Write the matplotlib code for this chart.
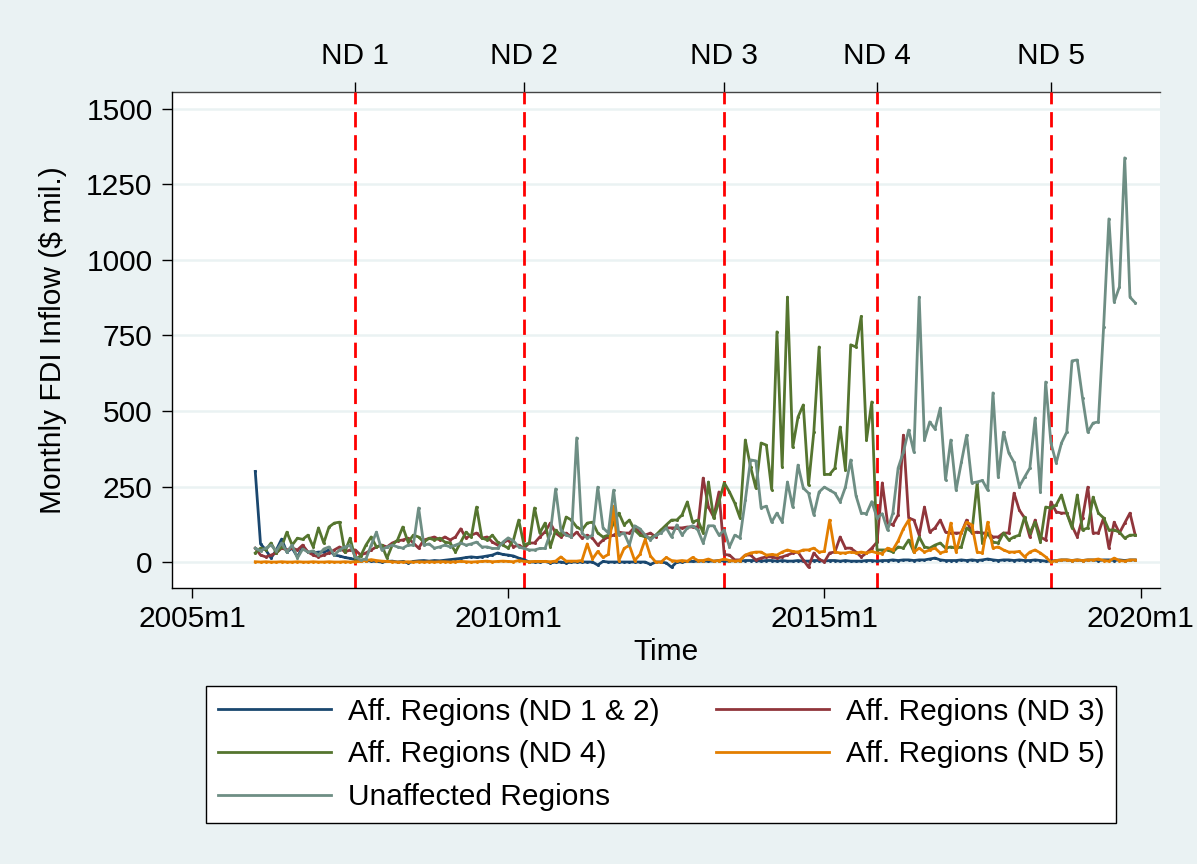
import matplotlib
matplotlib.use("Agg")
import matplotlib.pyplot as plt
import numpy as np

plt.rcParams['font.family'] = ['Liberation Sans', 'DejaVu Sans']
FS = 21.5

# Monthly dates in Stata %tm units (months since 1960m1): 2006m1 .. 2019m12
first_month = (2006 - 1960) * 12
last_month = (2019 - 1960) * 12 + 11
months = np.arange(first_month, last_month + 1)

# Monthly FDI inflow ($ mil.), one row per year 2006..2019
aff_nd12 = [
    300, 60, 40, 13, 40, 76, 33, 46, 17, 50, 33, 30,
    33, 33, 40, 23, 20, 15, 12, 8, 5, 5, 3, 2,
    0, 2, 3, 0, 2, -3, 2, 4, 5, 3, 5, 4,
    6, 8, 10, 12, 15, 17, 15, 17, 20, 23, 30, 25,
    23, 20, 13, 8, 0, 0, 0, 2, -3, 0, 0, -3,
    0, 0, 0, 0, 0, -10, 2, 0, 0, 0, 0, 0,
    0, 0, 0, -8, 0, 0, -3, -17, 0, 0, 2, 2,
    3, 3, 3, 3, 5, 3, 3, 5, 3, 5, 5, 5,
    3, 5, 5, 3, 5, 3, 3, 5, 3, 3, 5, 5,
    3, 5, 5, 3, 5, 3, 3, 3, 5, 5, 3, 5,
    5, 7, 5, 7, 7, 5, 7, 7, 10, 13, 7, 5,
    5, 5, 7, 5, 7, 5, 7, 10, 7, 5, 7, 7,
    5, 7, 5, 5, 7, 5, 3, 3, 5, 7, 7, 5,
    7, 5, 7, 7, 5, 7, 7, 5, 7, 5, 7, 7,
]

aff_nd3 = [
    46, 23, 17, 23, 30, 46, 40, 46, 40, 56, 33, 23,
    17, 23, 30, 40, 50, 33, 40, 40, 23, 30, 40, 50,
    56, 50, 63, 70, 73, 79, 63, 46, 73, 78, 83, 73,
    83, 73, 83, 110, 79, 89, 96, 79, 83, 66, 56, 63,
    73, 50, 56, 46, 63, 63, 83, 100, 129, 96, 83, 96,
    83, 99, 79, 89, 79, 56, 73, 83, 89, 99, 96, 96,
    116, 99, 89, 96, 83, 106, 113, 113, 113, 113, 116, 116,
    116, 278, 182, 149, 232, 25, 23, 7, 7, 23, 23, 7,
    13, 17, 17, 13, 17, 23, 30, 33, 7, -17, 30, 10,
    0, 30, 33, 83, 46, 46, 33, 17, 30, 46, 66, 262,
    129, 123, 156, 420, 146, 139, 89, 182, 99, 113, 139, 99,
    96, 96, 96, 139, 96, 99, 96, 96, 83, 83, 96, 96,
    228, 172, 146, 83, 139, 83, 73, 199, 166, 162, 162, 120,
    83, 146, 248, 96, 96, 146, 46, 132, 96, 129, 162, 89,
]

aff_nd4 = [
    30, 46, 40, 63, 30, 50, 99, 56, 79, 75, 89, 50,
    113, 63, 116, 129, 132, 33, 79, 10, 20, 56, 83, 50,
    56, 13, 56, 73, 116, 66, 89, 83, 66, 79, 73, 79,
    66, 63, 33, 66, 99, 83, 182, 80, 73, 89, 66, 56,
    46, 73, 139, 56, 63, 179, 96, 129, 50, 106, 89, 149,
    139, 116, 106, 129, 132, 96, 83, 89, 129, 162, 123, 139,
    106, 89, 83, 79, 89, 106, 123, 139, 139, 156, 199, 132,
    139, 96, 265, 145, 200, 262, 232, 195, 146, 404, 315, 245,
    394, 387, 240, 762, 315, 877, 380, 480, 520, 255, 430, 712,
    290, 290, 311, 447, 305, 719, 712, 813, 404, 530, 40, 40,
    40, 33, 50, 46, 73, 33, 83, 50, 46, 56, 63, 46,
    50, 46, 50, 113, 99, 262, 63, 96, 66, 63, 96, 73,
    83, 89, 149, 96, 132, 66, 182, 179, 189, 222, 162, 113,
    222, 106, 113, 215, 162, 146, 106, 106, 99, 79, 89, 89,
]

aff_nd5 = [
    1, 0, 1, 0, 0, 1, 0, 0, 1, 0, 0, 1,
    0, 0, 1, 0, 0, 1, 0, 1, 2, 5, 8, 5,
    3, 2, 1, 0, 0, 1, 0, 1, 0, 1, 0, 1,
    1, 0, 1, 2, 1, 0, 1, 2, 3, 1, 2, 3,
    2, 1, 5, 2, 1, 2, 2, 2, 1, 3, 17, 3,
    3, 3, 5, 60, 10, 35, 15, 25, 185, 5, 45, 55,
    5, 25, 75, 20, 0, 0, 15, 5, 3, 5, 3, 15,
    5, 5, 10, 3, 5, 10, 5, 3, 5, 23, 30, 33,
    33, 23, 25, 23, 33, 40, 35, 33, 40, 40, 46, 33,
    35, 139, 33, 30, 30, 33, 30, 33, 30, 35, 30, 28,
    46, 40, 70, 110, 139, 33, 46, 33, 40, 46, 30, 35,
    129, 33, 99, 132, 123, 33, 30, 132, 46, 50, 40, 33,
    33, 35, 17, 33, 40, 30, 17, 0, 5, 7, 7, 5,
    7, 5, 7, 7, 10, 5, 3, 13, 5, 3, 7, 7,
]

unaffected = [
    46, 37, 46, 56, 37, 63, 33, 56, 13, 43, 33, 37,
    23, 43, 50, 23, 40, 50, 55, 17, 7, 10, 56, 99,
    40, 50, 56, 50, 46, 56, 56, 179, 56, 60, 46, 50,
    56, 50, 56, 63, 56, 60, 66, 50, 50, 45, 45, 66,
    80, 70, 50, 45, 40, 40, 45, 45, 96, 242, 106, 89,
    83, 411, 96, 79, 89, 248, 113, 96, 238, 89, 96, 56,
    120, 110, 89, 73, 89, 96, 113, 83, 123, 89, 113, 120,
    106, 63, 120, 120, 89, 106, 50, 89, 80, 205, 338, 335,
    179, 185, 132, 162, 132, 265, 182, 321, 245, 228, 156, 232,
    248, 238, 228, 199, 248, 338, 220, 162, 160, 200, 146, 160,
    106, 162, 311, 364, 437, 364, 877, 404, 464, 440, 510, 272,
    404, 238, 330, 420, 262, 265, 270, 238, 560, 281, 430, 361,
    330, 250, 281, 311, 477, 232, 596, 394, 328, 394, 430, 666,
    669, 543, 430, 460, 464, 778, 1136, 861, 911, 1338, 877, 858,
]

series_labels = ["Aff. Regions (ND 1 & 2)", "Aff. Regions (ND 3)",
                 "Aff. Regions (ND 4)", "Aff. Regions (ND 5)",
                 "Unaffected Regions"]
series_colors = ["#1a476f", "#90353b", "#55752f", "#e37e00", "#6e8e84"]

# Natural disaster dates (%tm) and their labels on the top axis
nd_dates = [571, 603, 641, 670, 703]
nd_labels = ["ND 1", "ND 2", "ND 3", "ND 4", "ND 5"]

x_ticks = [540, 600, 660, 720]
x_tick_labels = ["2005m1", "2010m1", "2015m1", "2020m1"]
y_ticks = [0, 250, 500, 750, 1000, 1250, 1500]

bg = "#EAF2F3"
fig = plt.figure(figsize=(11.97, 8.64), dpi=100, facecolor=bg)
W, H = 1197, 864
ax = fig.add_axes([172 / W, 1 - 588 / H, (1160 - 172) / W, (588 - 92) / H])
ax.set_facecolor("white")

ax.set_xlim(536.2, 723.7)
ax.set_ylim(-86, 1556)

ax.yaxis.grid(True, color=bg, lw=1.8)
ax.set_axisbelow(True)

for d in nd_dates:
    ax.axvline(d, color="#ff0000", lw=2.0, dashes=(5.5, 2.8), zorder=1.5)

all_series = [aff_nd12, aff_nd3, aff_nd4, aff_nd5, unaffected]
handles = []
for vals, lab, col in zip(all_series, series_labels, series_colors):
    h, = ax.plot(months, vals, color=col, lw=2.0, marker="o", ms=2.2,
                 mew=0, label=lab, zorder=3)
    handles.append(h)

ax.set_xticks(x_ticks, x_tick_labels)
ax.set_yticks(y_ticks, [str(v) for v in y_ticks])
ax.tick_params(axis="both", labelsize=FS, length=7, width=1, color="black")
ax.tick_params(axis="x", pad=5)
ax.tick_params(axis="y", pad=7)

for side in ["left", "bottom"]:
    ax.spines[side].set_color("black")
    ax.spines[side].set_linewidth(1.0)
ax.spines["right"].set_visible(False)
ax.spines["top"].set_visible(False)

top = ax.secondary_xaxis("top")
top.set_xticks(nd_dates, nd_labels)
top.tick_params(labelsize=FS, length=7, width=1, pad=9)
top.spines["top"].set_color("#444444")
top.spines["top"].set_linewidth(1.0)

ax.set_xlabel("Time", fontsize=FS, labelpad=4)
ax.set_ylabel("Monthly FDI Inflow ($ mil.)", fontsize=FS, labelpad=14)

order = [0, 2, 4, 1, 3]
leg = fig.legend([handles[i] for i in order], [series_labels[i] for i in order],
                 ncol=2, loc="center", bbox_to_anchor=(661 / W, 1 - 754.5 / H),
                 fontsize=FS, frameon=True, fancybox=False, edgecolor="black",
                 facecolor="white", framealpha=1, handlelength=3.8,
                 handletextpad=0.55, columnspacing=1.9, labelspacing=0.5,
                 borderpad=0.4, borderaxespad=0)
leg.get_frame().set_linewidth(1.0)
for lh in leg.get_lines():
    lh.set_marker("")
    lh.set_linewidth(2.0)

fig.savefig("out.png", dpi=100, facecolor=bg)
